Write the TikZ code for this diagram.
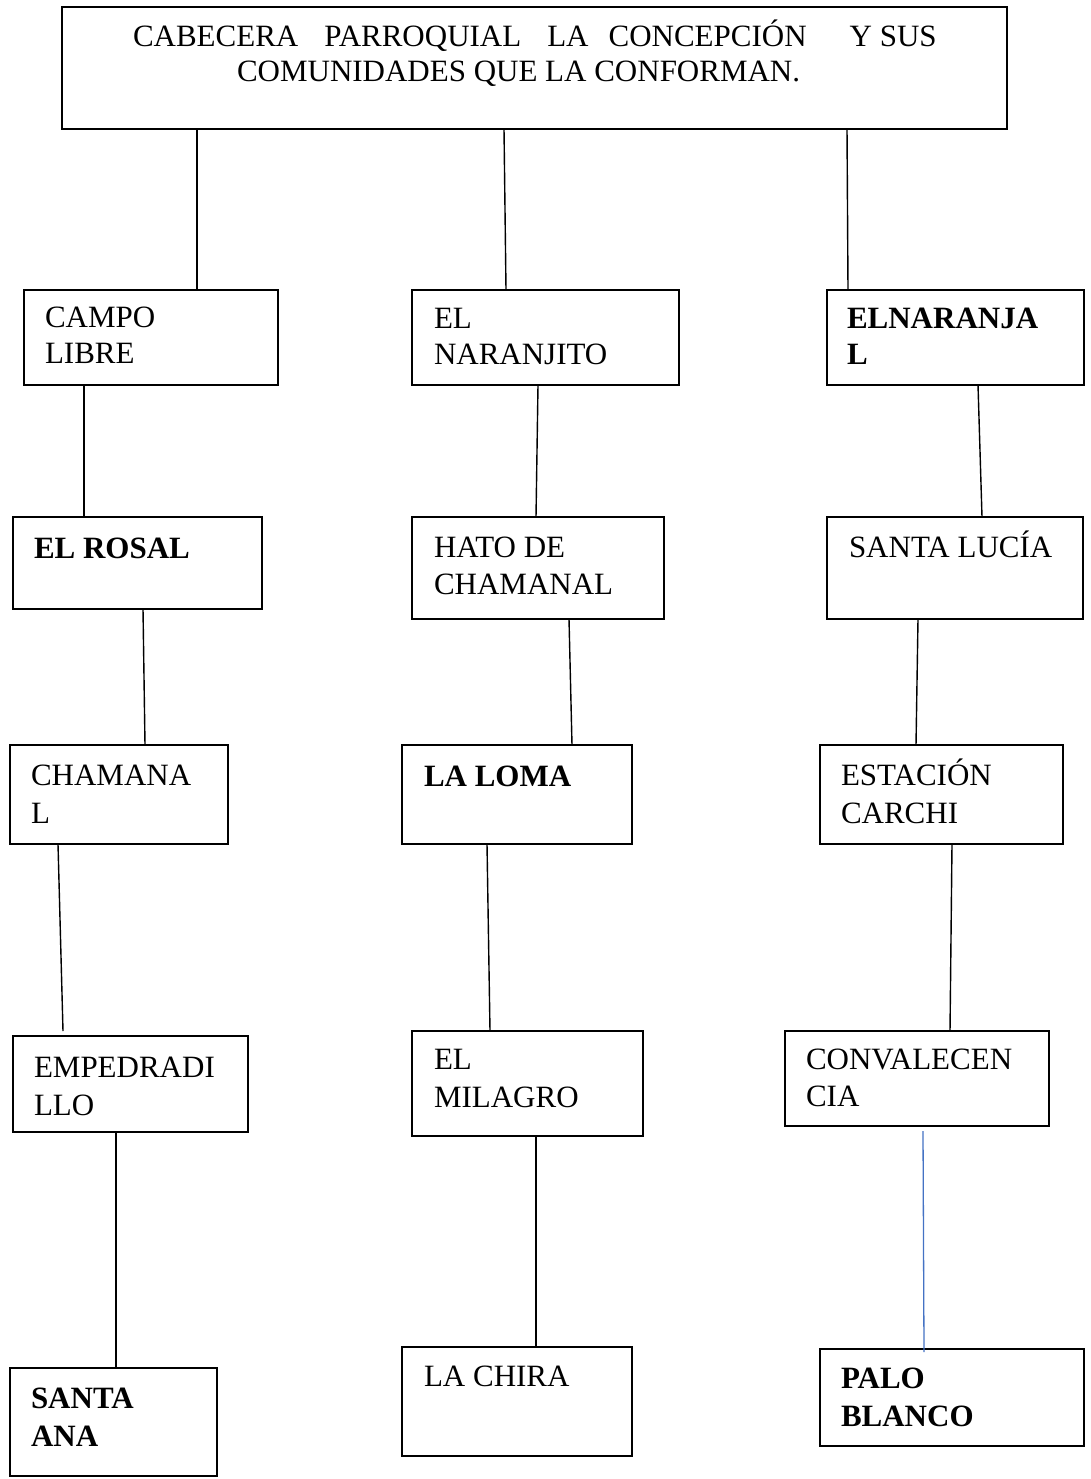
\documentclass[tikz,border=0pt]{standalone}
\usepackage{fontspec}
\setmainfont{Liberation Serif}
\definecolor{linkblue}{HTML}{4472C4}
\begin{document}
\begin{tikzpicture}[x=1pt,y=-1pt,
  box/.style={draw, line width=1.8pt, inner sep=0pt, outer sep=0pt, anchor=north west},
  lbl/.style={anchor=base west, inner sep=0pt, outer sep=0pt, font=\fontsize{31pt}{37pt}\selectfont},
  blbl/.style={lbl, font=\fontsize{31pt}{37pt}\selectfont\bfseries},
  link/.style={line width=1.4pt},
  bluelink/.style={line width=1.3pt, draw=linkblue}]
\useasboundingbox (0,0) rectangle (1091,1479);
\fill[white] (0,0) rectangle (1091,1479);

% boxes
\node[box, minimum width=945pt, minimum height=122pt] (top) at (62,7) {};
\node[box, minimum width=254pt, minimum height=95pt] (b1) at (24,290) {};
\node[box, minimum width=267pt, minimum height=95pt] (b2) at (412,290) {};
\node[box, minimum width=257pt, minimum height=95pt] (b3) at (827,290) {};
\node[box, minimum width=249pt, minimum height=92pt] (b4) at (13,517) {};
\node[box, minimum width=252pt, minimum height=102pt] (b5) at (412,517) {};
\node[box, minimum width=256pt, minimum height=102pt] (b6) at (827,517) {};
\node[box, minimum width=218pt, minimum height=99pt] (b7) at (10,745) {};
\node[box, minimum width=230pt, minimum height=99pt] (b8) at (402,745) {};
\node[box, minimum width=243pt, minimum height=99pt] (b9) at (820,745) {};
\node[box, minimum width=235pt, minimum height=96pt] (b10) at (13,1036) {};
\node[box, minimum width=231pt, minimum height=105pt] (b11) at (412,1031) {};
\node[box, minimum width=264pt, minimum height=95pt] (b12) at (785,1031) {};
\node[box, minimum width=207pt, minimum height=108pt] (b13) at (10,1368) {};
\node[box, minimum width=230pt, minimum height=109pt] (b14) at (402,1347) {};
\node[box, minimum width=264pt, minimum height=97pt] (b15) at (820,1349) {};

% texts
\node[lbl] (t0a) at (133,47) {CABECERA\hspace{26pt}PARROQUIAL\hspace{26pt}LA\hspace{20pt}CONCEPCIÓN\hspace{43pt}Y SUS};
\node[lbl] (t0b) at (237,82) {COMUNIDADES QUE LA CONFORMAN.};
\node[lbl] (t1a) at (45,327) {CAMPO};
\node[lbl] (t1b) at (45,363) {LIBRE};
\node[lbl] (t2a) at (434,328) {EL};
\node[lbl] (t2b) at (434,364) {NARANJITO};
\node[blbl] (t3a) at (847,328) {ELNARANJA};
\node[blbl] (t3b) at (847,364) {L};
\node[blbl] (t4a) at (34,558) {EL ROSAL};
\node[lbl] (t5a) at (434,557) {HATO DE};
\node[lbl] (t5b) at (434,594) {CHAMANAL};
\node[lbl] (t6a) at (849,557) {SANTA LUCÍA};
\node[lbl] (t7a) at (31,785) {CHAMANA};
\node[lbl] (t7b) at (31,823) {L};
\node[blbl] (t8a) at (424,786) {LA LOMA};
\node[lbl] (t9a) at (841,785) {ESTACIÓN};
\node[lbl] (t9b) at (841,823) {CARCHI};
\node[lbl] (t10a) at (34,1077) {EMPEDRADI};
\node[lbl] (t10b) at (34,1115) {LLO};
\node[lbl] (t11a) at (434,1069) {EL};
\node[lbl] (t11b) at (434,1107) {MILAGRO};
\node[lbl] (t12a) at (806,1069) {CONVALECEN};
\node[lbl] (t12b) at (806,1106) {CIA};
\node[blbl] (t13a) at (31,1408) {SANTA};
\node[blbl] (t13b) at (31,1446) {ANA};
\node[lbl] (t14a) at (424,1386) {LA CHIRA};
\node[blbl] (t15a) at (841,1388) {PALO};
\node[blbl] (t15b) at (841,1426) {BLANCO};

% connectors
\draw[link] ([xshift=135pt]top.south west) -- ([xshift=173pt]b1.north west);
\draw[link] ([xshift=442pt]top.south west) -- ([xshift=94pt]b2.north west);
\draw[link] ([xshift=785pt]top.south west) -- ([xshift=21pt]b3.north west);
\draw[link] ([xshift=60pt]b1.south west) -- ([xshift=71pt]b4.north west);
\draw[link] ([xshift=126pt]b2.south west) -- ([xshift=124pt]b5.north west);
\draw[link] ([xshift=151pt]b3.south west) -- ([xshift=155pt]b6.north west);
\draw[link] ([xshift=130pt]b4.south west) -- ([xshift=135pt]b7.north west);
\draw[link] ([xshift=157pt]b5.south west) -- ([xshift=170pt]b8.north west);
\draw[link] ([xshift=91pt]b6.south west) -- ([xshift=96pt]b9.north west);
\coordinate (c10) at ([xshift=50pt,yshift=5pt]b10.north west);
\draw[link] ([xshift=48pt]b7.south west) -- (c10);
\draw[link] ([xshift=85pt]b8.south west) -- ([xshift=78pt]b11.north west);
\draw[link] ([xshift=132pt]b9.south west) -- ([xshift=165pt]b12.north west);
\draw[link] ([xshift=103pt]b10.south west) -- ([xshift=106pt]b13.north west);
\draw[link] ([xshift=124pt]b11.south west) -- ([xshift=134pt]b14.north west);
\coordinate (c12) at ([xshift=138pt,yshift=-5pt]b12.south west);
\coordinate (c15) at ([xshift=104pt,yshift=-3pt]b15.north west);
\draw[bluelink] (c12) -- (c15);
\end{tikzpicture}
\end{document}
